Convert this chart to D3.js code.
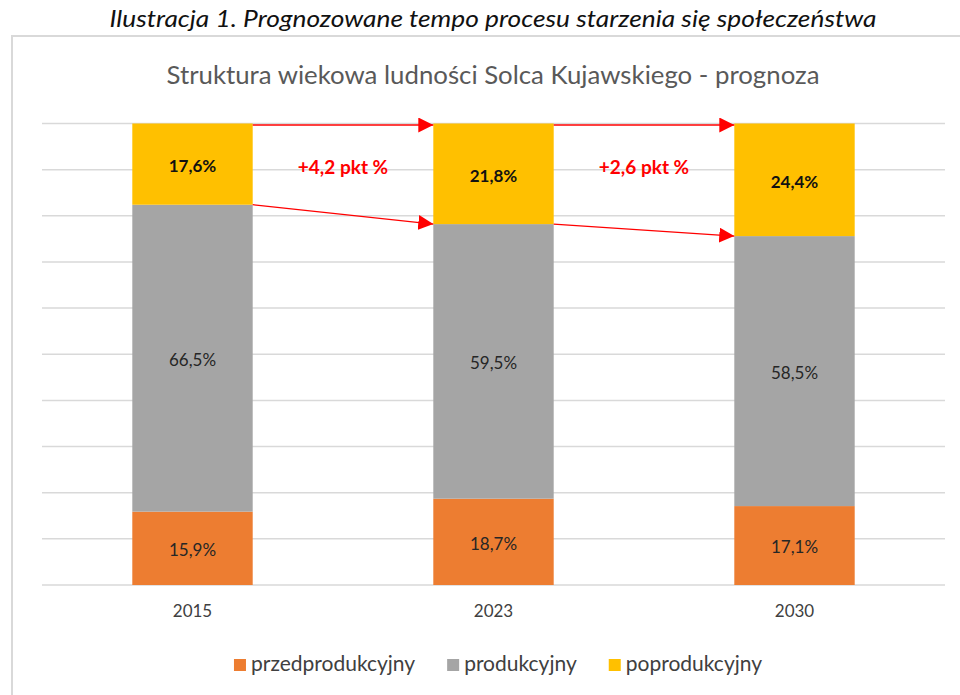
<!DOCTYPE html>
<html>
<head>
<meta charset="utf-8">
<script src="https://cdn.jsdelivr.net/npm/d3@7"></script>
<style>
	body { margin: 0; background: #fff; }
	svg { display: block; font-family: Lato, 'Open Sans', sans-serif; }
</style>
</head>
<body>
<div id="chart"></div>
<script>
/*

*	Data

*/
var years = ['2015', '2023', '2030'];
var seriesNames = ['przedprodukcyjny', 'produkcyjny', 'poprodukcyjny'];
var przedprodukcyjny = [15.9, 18.7, 17.1];
var produkcyjny = [66.5, 59.5, 58.5];
var poprodukcyjny = [17.6, 21.8, 24.4];
var changeLabels = ['+4,2 pkt %', '+2,6 pkt %'];
var yTicks = [0, 10, 20, 30, 40, 50, 60, 70, 80, 90, 100];

var colors = ['#ED7D31', '#A5A5A5', '#FFC000'];

/*

*	Setup

*/
var width = 960,
	height = 695;

var svg = d3
	.select('#chart')
	.append('svg')
	.attr('width', width)
	.attr('height', height);

svg
	.append('text')
	.attr('x', 493)
	.attr('y', 27)
	.attr('text-anchor', 'middle')
	.attr('font-style', 'italic')
	.attr('font-size', 24)
	.attr('fill', '#111')
	.attr('textLength', 767)
	.attr('lengthAdjust', 'spacingAndGlyphs')
	.text('Ilustracja 1. Prognozowane tempo procesu starzenia się społeczeństwa');

// chart frame, runs off the right and bottom edge
svg
	.append('rect')
	.attr('x', 12)
	.attr('y', 36)
	.attr('width', 980)
	.attr('height', 700)
	.attr('fill', 'none')
	.attr('stroke', '#d9d9d9')
	.attr('stroke-width', 2);

svg
	.append('text')
	.attr('x', 493)
	.attr('y', 84)
	.attr('text-anchor', 'middle')
	.attr('font-size', 25)
	.attr('fill', '#595959')
	.attr('textLength', 653)
	.attr('lengthAdjust', 'spacingAndGlyphs')
	.text('Struktura wiekowa ludności Solca Kujawskiego - prognoza');

var x = d3.scaleBand().domain(years).range([42, 945]).paddingInner(0.6).paddingOuter(0.3);
var y = d3.scaleLinear().domain([0, 100]).range([585, 123.5]);

// gridlines
svg
	.append('g')
	.selectAll('line')
	.data(yTicks)
	.enter()
	.append('line')
	.attr('x1', 42)
	.attr('x2', 945)
	.attr('y1', function (d) {
		return y(d);
	})
	.attr('y2', function (d) {
		return y(d);
	})
	.attr('stroke', '#d9d9d9')
	.attr('stroke-width', 1.5);

/*

*	Stacked bars

*/
var rows = years.map(function (yr, i) {
	return {
		year: yr,
		przedprodukcyjny: przedprodukcyjny[i],
		produkcyjny: produkcyjny[i],
		poprodukcyjny: poprodukcyjny[i],
	};
});

var stacked = d3.stack().keys(seriesNames)(rows);

var layers = svg
	.append('g')
	.selectAll('g')
	.data(stacked)
	.enter()
	.append('g')
	.attr('fill', function (d, i) {
		return colors[i];
	});

layers
	.selectAll('rect')
	.data(function (d) {
		return d;
	})
	.enter()
	.append('rect')
	.attr('x', function (d) {
		return x(d.data.year);
	})
	.attr('width', x.bandwidth())
	.attr('y', function (d) {
		return y(d[1]);
	})
	.attr('height', function (d) {
		return y(d[0]) - y(d[1]);
	});

stacked.forEach(function (layer, li) {
	svg
		.append('g')
		.selectAll('text')
		.data(layer)
		.enter()
		.append('text')
		.attr('x', function (d) {
			return x(d.data.year) + x.bandwidth() / 2;
		})
		.attr('y', function (d) {
			return (y(d[0]) + y(d[1])) / 2 + 2;
		})
		.attr('dy', '0.35em')
		.attr('text-anchor', 'middle')
		.attr('font-size', 17)
		.attr('font-weight', li == 2 ? 'bold' : 'normal')
		.attr('fill', li == 2 ? '#111' : '#262626')
		.text(function (d) {
			return (d[1] - d[0]).toFixed(1).replace('.', ',') + '%';
		});
});

/*

*	Arrows between bars

*/
svg
	.append('defs')
	.append('marker')
	.attr('id', 'head')
	.attr('markerUnits', 'userSpaceOnUse')
	.attr('markerWidth', 16)
	.attr('markerHeight', 16)
	.attr('refX', 15)
	.attr('refY', 7.5)
	.attr('orient', 'auto')
	.append('path')
	.attr('d', 'M0,0 L15,7.5 L0,15 Z')
	.attr('fill', '#ff0000');

var arrows = svg.append('g');
for (var i = 0; i < years.length - 1; i++) {
	var x0 = x(years[i]) + x.bandwidth(),
		x1 = x(years[i + 1]);

	arrows
		.append('line')
		.attr('x1', x0)
		.attr('y1', y(100) + 1.5)
		.attr('x2', x1)
		.attr('y2', y(100) + 1.5)
		.attr('stroke', '#ff0000')
		.attr('stroke-width', 1.3)
		.attr('marker-end', 'url(#head)');

	arrows
		.append('line')
		.attr('x1', x0)
		.attr('y1', y(przedprodukcyjny[i] + produkcyjny[i]))
		.attr('x2', x1)
		.attr('y2', y(przedprodukcyjny[i + 1] + produkcyjny[i + 1]))
		.attr('stroke', '#ff0000')
		.attr('stroke-width', 1.3)
		.attr('marker-end', 'url(#head)');

	arrows
		.append('text')
		.attr('x', (x0 + x1) / 2)
		.attr('y', y(90) + 4)
		.attr('text-anchor', 'middle')
		.attr('font-size', 19)
		.attr('font-weight', 'bold')
		.attr('fill', '#ff0000')
		.text(changeLabels[i]);
}

/*

*	Category axis

*/
var xAxis = d3.axisBottom(x).tickSize(0).tickPadding(0);
var axisG = svg
	.append('g')
	.attr('transform', 'translate(0,' + 605 + ')')
	.call(xAxis);
axisG.select('.domain').remove();
axisG
	.selectAll('text')
	.attr('font-size', 17)
	.attr('font-family', 'Lato, sans-serif')
	.attr('fill', '#404040');

/*

*	Legend

*/
var legend = svg.append('g');
var lx = 0;
seriesNames.forEach(function (name, i) {
	var item = legend.append('g').attr('transform', 'translate(' + lx + ',0)');
	item
		.append('rect')
		.attr('x', 0)
		.attr('y', -12)
		.attr('width', 12)
		.attr('height', 12)
		.attr('fill', colors[i]);
	var t = item
		.append('text')
		.attr('x', 17)
		.attr('y', 0)
		.attr('font-size', 21)
		.attr('fill', '#404040')
		.text(name);
	lx += 17 + t.node().getComputedTextLength() + 32;
});
legend.attr('transform', 'translate(' + (498 - (lx - 32) / 2) + ',' + 671 + ')');
</script>
</body>
</html>
